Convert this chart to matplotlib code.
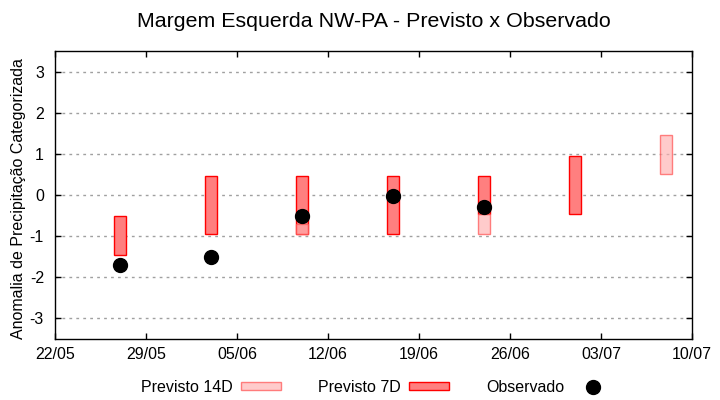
import numpy as np
import matplotlib
matplotlib.use("Agg")
import matplotlib.pyplot as plt
import matplotlib.dates as mdates
from matplotlib.patches import Patch
from matplotlib.lines import Line2D
import datetime as dt

plt.rcParams['font.family'] = ['Liberation Sans', 'DejaVu Sans']
plt.rcParams['axes.unicode_minus'] = False

# ---- data ----
dates = ['2023-05-27', '2023-06-03', '2023-06-10', '2023-06-17',
         '2023-06-24', '2023-07-01', '2023-07-08']
p7_low = [-1.45, -0.95, -0.95, -0.95, -0.45, -0.45, np.nan]
p7_high = [-0.5, 0.45, 0.45, 0.45, 0.45, 0.95, np.nan]
p14_low = [np.nan, np.nan, -0.95, np.nan, -0.95, np.nan, 0.5]
p14_high = [np.nan, np.nan, -0.7, np.nan, -0.45, np.nan, 1.45]
observed = [-1.7, -1.5, -0.5, -0.03, -0.3, np.nan, np.nan]
yticks = [-3, -2, -1, 0, 1, 2, 3]
xtick_dates = ['2023-05-22', '2023-05-29', '2023-06-05', '2023-06-12',
               '2023-06-19', '2023-06-26', '2023-07-03', '2023-07-10']
xtick_labels = ['22/05', '29/05', '05/06', '12/06', '19/06', '26/06', '03/07', '10/07']

title = 'Margem Esquerda NW-PA - Previsto x Observado'
ylabel = 'Anomalia de Precipitação Categorizada'


def dnum(s):
    return mdates.date2num(dt.date.fromisoformat(s))


# ---- figure ----
fig = plt.figure(figsize=(7.2, 4.0), dpi=100)
ax = fig.add_axes([55/720, 1-339/400, (692-55)/720, (339-51)/400])

x = [dnum(d) for d in dates]
bw = 0.92

c7_face = '#ff7f7f'
c7_edge = '#ff0000'
c14_face = (1.0, 175/255, 175/255, 0.64)
c14_edge = (1.0, 0.35, 0.35, 0.75)

lo7 = np.array(p7_low); hi7 = np.array(p7_high)
ax.bar(x, hi7 - lo7, bottom=lo7, width=bw, color=c7_face,
       edgecolor=c7_edge, linewidth=1.0, zorder=2)
lo14 = np.array(p14_low); hi14 = np.array(p14_high)
ax.bar(x, hi14 - lo14, bottom=lo14, width=bw, color=c14_face,
       edgecolor=c14_edge, linewidth=1.0, zorder=3)
ax.plot(x, observed, 'o', color='black', markersize=10, zorder=4, linestyle='none')

xt = [dnum(d) for d in xtick_dates]
ax.set_xlim(xt[0], xt[-1])
ax.set_ylim(-3.5, 3.5)
ax.set_xticks(xt)
ax.set_xticklabels(xtick_labels)
ax.set_yticks(yticks)
ax.set_yticklabels([str(v) for v in yticks])
ax.tick_params(direction='in', length=4, width=1, top=True, right=True,
               labelsize=11.5, color='black')
ax.tick_params(axis='y', pad=8)
ax.tick_params(axis='x', pad=6)
ax.yaxis.grid(True, linestyle=(0, (2, 3)), color='#a0a0a0', linewidth=1.0, zorder=1)
ax.set_axisbelow(True)
for s in ax.spines.values():
    s.set_linewidth(1.0)

ax.set_ylabel(ylabel, fontsize=11.5)
ax.yaxis.set_label_coords(-29/637, 0.488)
ax.set_title(title, fontsize=15.4, pad=17)

handles = [
    Patch(facecolor=c14_face, edgecolor=c14_edge, linewidth=1.0),
    Patch(facecolor=c7_face, edgecolor=c7_edge, linewidth=1.0),
    Line2D([], [], marker='o', color='black', markersize=10, linestyle='none'),
]
labels = ['Previsto 14D', 'Previsto 7D', 'Observado']
fig.legend(handles, labels, loc='center', bbox_to_anchor=(377/720, 1 - 387/400),
           ncol=3, frameon=False, markerfirst=False, fontsize=11.5,
           handlelength=2.5, handleheight=0.4, handletextpad=0.5,
           columnspacing=2.35, borderpad=0.2)

fig.savefig('out.png', dpi=100)
